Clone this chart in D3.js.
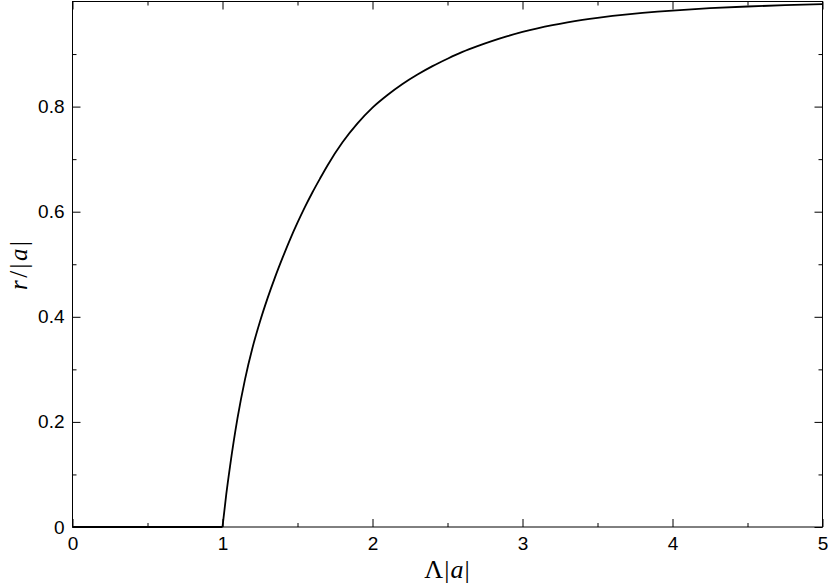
<!DOCTYPE html>
<html>
<head>
<meta charset="utf-8">
<script src="https://cdn.jsdelivr.net/npm/d3@7"></script>
<style>
  html, body { margin: 0; padding: 0; background: #fff; }
  svg { display: block; }
  .tick text { font-family: "Liberation Sans", Arial, Helvetica, sans-serif; font-size: 19px; fill: #000; }
  .tick line { stroke: #000; stroke-width: 1; }
  .domain { display: none; }
</style>
</head>
<body>
<svg id="chart" width="830" height="586"></svg>
<script>
// Λ|a| values and r/|a| values
const lambdaA = [0, 1.0, 1.025, 1.05, 1.1, 1.15, 1.2, 1.25, 1.3, 1.35, 1.4, 1.45, 1.5, 1.55, 1.6, 1.65, 1.7, 1.8, 1.9, 2.0, 2.1, 2.2, 2.3, 2.4, 2.5, 2.6, 2.7, 2.8, 2.9, 3.0, 3.1, 3.2, 3.3, 3.4, 3.5, 3.6, 3.7, 3.8, 3.9, 4.0, 4.25, 4.5, 4.75, 5.0];
const rOverA  = [0, 0,   0.062, 0.115, 0.207, 0.281, 0.341, 0.391, 0.435, 0.475, 0.512, 0.547, 0.579, 0.609, 0.637, 0.663, 0.688, 0.732, 0.768, 0.798, 0.822, 0.843, 0.861, 0.877, 0.891, 0.904, 0.915, 0.925, 0.934, 0.942, 0.949, 0.9551, 0.9604, 0.965, 0.969, 0.9725, 0.9756, 0.9783, 0.9807, 0.9828, 0.9872, 0.9905, 0.993, 0.995];

const xMajorTicks = [0, 1, 2, 3, 4, 5];
const xMinorTicks = [0.5, 1.5, 2.5, 3.5, 4.5];
const yMajorTicks = [0, 0.2, 0.4, 0.6, 0.8];
const yMinorTicks = [0.1, 0.3, 0.5, 0.7, 0.9];
const xTickLabels = ["0", "1", "2", "3", "4", "5"];
const yTickLabels = ["0", "0.2", "0.4", "0.6", "0.8"];

const W = 830, H = 586;
const m = { left: 72.5, right: 7.5, top: 1.5, bottom: 59 };
const iw = W - m.left - m.right, ih = H - m.top - m.bottom;

const svg = d3.select("#chart");
const g = svg.append("g").attr("transform", `translate(${m.left},${m.top})`);

const x = d3.scaleLinear().domain([0, 5]).range([0, iw]);
const y = d3.scaleLinear().domain([0, 1]).range([ih, 0]);

const MAJ = 8, MIN = 4;

// bottom axis
g.append("g").attr("transform", `translate(0,${ih})`)
  .call(d3.axisBottom(x).tickValues(xMajorTicks).tickFormat((d, i) => xTickLabels[i])
    .tickSizeInner(-MAJ).tickSizeOuter(0).tickPadding(10));
g.append("g").attr("transform", `translate(0,${ih})`)
  .call(d3.axisBottom(x).tickValues(xMinorTicks).tickFormat("").tickSizeInner(-MIN).tickSizeOuter(0));
// top axis
g.append("g")
  .call(d3.axisTop(x).tickValues(xMajorTicks).tickFormat("").tickSizeInner(-MAJ).tickSizeOuter(0));
g.append("g")
  .call(d3.axisTop(x).tickValues(xMinorTicks).tickFormat("").tickSizeInner(-MIN).tickSizeOuter(0));
// left axis
g.append("g")
  .call(d3.axisLeft(y).tickValues(yMajorTicks).tickFormat((d, i) => yTickLabels[i])
    .tickSizeInner(-MAJ).tickSizeOuter(0).tickPadding(8));
g.append("g")
  .call(d3.axisLeft(y).tickValues(yMinorTicks).tickFormat("").tickSizeInner(-MIN).tickSizeOuter(0));
// right axis
g.append("g").attr("transform", `translate(${iw},0)`)
  .call(d3.axisRight(y).tickValues(yMajorTicks).tickFormat("").tickSizeInner(-MAJ).tickSizeOuter(0));
g.append("g").attr("transform", `translate(${iw},0)`)
  .call(d3.axisRight(y).tickValues(yMinorTicks).tickFormat("").tickSizeInner(-MIN).tickSizeOuter(0));

// frame
g.append("rect").attr("x", 0).attr("y", 0).attr("width", iw).attr("height", ih)
  .attr("fill", "none").attr("stroke", "#000").attr("stroke-width", 1);

// data
const pts = lambdaA.map((v, i) => ({ x: v, y: rOverA[i] }));
const flat = pts.filter(p => p.x <= 1);
const rise = pts.filter(p => p.x >= 1);

g.append("path").datum(flat)
  .attr("fill", "none").attr("stroke", "#000").attr("stroke-width", 1.8)
  .attr("d", d3.line().x(d => x(d.x)).y(d => y(d.y)));
g.append("path").datum(rise)
  .attr("fill", "none").attr("stroke", "#000").attr("stroke-width", 1.8)
  .attr("stroke-linejoin", "round")
  .attr("d", d3.line().x(d => x(d.x)).y(d => y(d.y)).curve(d3.curveMonotoneX));

// axis labels
const serif = '"Liberation Serif", "DejaVu Serif", "Times New Roman", serif';
const xl = svg.append("text")
  .attr("x", m.left + iw / 2).attr("y", 578)
  .attr("text-anchor", "middle")
  .attr("font-family", serif).attr("font-size", 26).attr("letter-spacing", 1).attr("fill", "#000");
xl.append("tspan").text("Λ|");
xl.append("tspan").attr("font-style", "italic").text("a");
xl.append("tspan").text("|");

const yl = svg.append("text")
  .attr("transform", `translate(27,${m.top + ih / 2})rotate(-90)`)
  .attr("text-anchor", "middle")
  .attr("font-family", serif).attr("font-size", 25).attr("letter-spacing", 2.5).attr("fill", "#000");
yl.append("tspan").attr("font-style", "italic").text("r");
yl.append("tspan").text("/|");
yl.append("tspan").attr("font-style", "italic").text("a");
yl.append("tspan").text("|");
</script>
</body>
</html>
